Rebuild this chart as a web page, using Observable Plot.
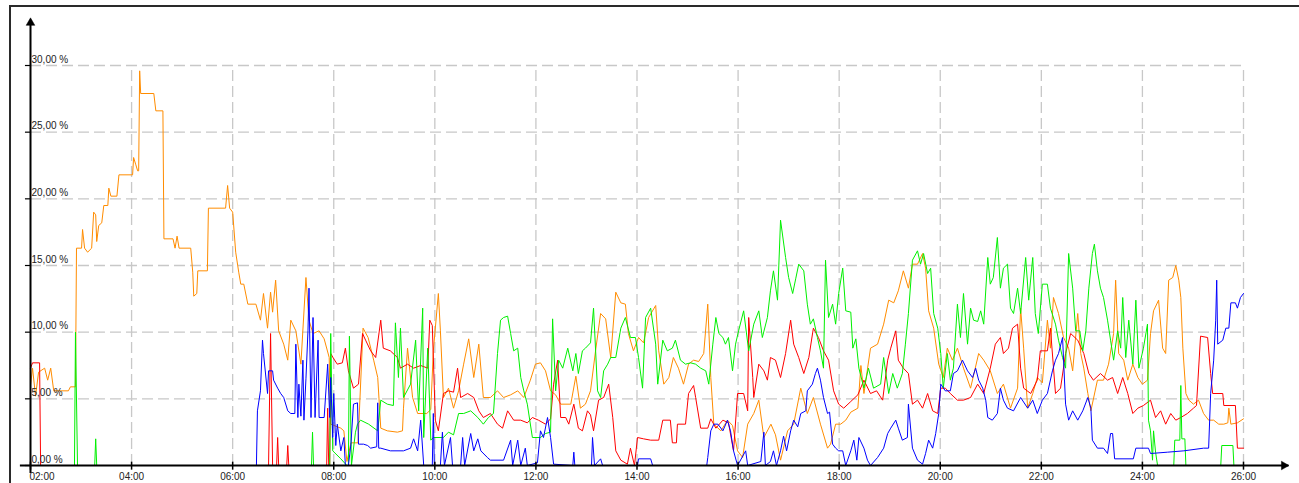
<!DOCTYPE html>
<html>
<head>
<meta charset="utf-8">
<script src="https://cdn.jsdelivr.net/npm/d3@7"></script>
<script src="https://cdn.jsdelivr.net/npm/@observablehq/plot@0.6"></script>
<style>
  html, body { margin: 0; padding: 0; background: #fff; }
  #wrap { position: relative; width: 1299px; height: 483px; overflow: hidden; }
  #frame { position: absolute; left: 9px; top: 5px; right: -4px; bottom: -4px; border-left: 2px solid #2a2a2a; border-top: 2px solid #2a2a2a; pointer-events: none; }
  svg { display: block; }
</style>
</head>
<body>
<div id="wrap"><div id="frame"></div></div>
<script>
// ---- tick values ----
const xTicks = [2, 4, 6, 8, 10, 12, 14, 16, 18, 20, 22, 24, 26];      // hours (02:00 .. 26:00)
const yTicks = [0, 5, 10, 15, 20, 25, 30];                             // percent

// ---- series: [hour, percent] ----
const orangeSeries = [[2.00,6.0],[2.04,7.3],[2.10,5.2],[2.16,7.0],[2.28,7.3],[2.34,6.4],[2.40,7.3],[2.46,5.6],[2.75,5.6],[2.79,5.9],[2.89,5.9],[2.91,16.3],[3.01,16.3],[3.03,17.7],[3.07,16.3],[3.13,16.0],[3.21,16.3],[3.25,19.0],[3.29,18.8],[3.31,16.8],[3.35,18.0],[3.41,18.2],[3.45,19.5],[3.53,19.5],[3.55,20.8],[3.59,20.2],[3.71,20.2],[3.75,21.8],[4.02,21.8],[4.04,23.1],[4.08,22.6],[4.12,22.1],[4.14,22.1],[4.16,29.6],[4.18,27.9],[4.44,27.9],[4.48,26.6],[4.62,26.6],[4.64,17.0],[4.82,17.0],[4.86,16.3],[4.90,17.2],[4.94,16.3],[5.17,16.3],[5.21,14.5],[5.23,12.7],[5.29,12.9],[5.31,14.6],[5.50,14.6],[5.52,19.3],[5.86,19.3],[5.90,21.0],[5.94,19.3],[6.00,19.0],[6.06,16.0],[6.12,14.5],[6.16,13.6],[6.22,13.6],[6.30,12.1],[6.46,12.1],[6.55,10.9],[6.61,12.9],[6.69,10.3],[6.75,13.0],[6.79,11.5],[6.85,13.9],[6.91,10.1],[7.01,9.1],[7.09,7.9],[7.15,10.9],[7.25,10.1],[7.35,7.6],[7.45,14.1],[7.51,10.9],[7.59,9.9],[7.71,10.1],[7.81,9.5],[7.91,8.1],[7.94,3.1],[8.14,2.8],[8.20,2.6],[8.26,0.3],[8.34,1.7],[8.48,1.7],[8.58,10.3],[8.68,9.6],[8.79,7.9],[8.87,6.6],[8.93,2.8],[9.06,2.6],[9.26,2.5],[9.36,2.6],[9.38,4.3],[9.46,8.8],[9.56,5.1],[9.66,3.9],[9.84,3.9],[9.92,4.2],[9.97,8.6],[10.07,12.9],[10.11,10.1],[10.17,5.1],[10.27,5.8],[10.37,4.3],[10.47,5.6],[10.57,7.6],[10.67,9.5],[10.77,6.6],[10.87,9.1],[10.96,5.1],[11.10,5.1],[11.24,5.6],[11.36,5.1],[11.50,5.3],[11.64,5.6],[11.76,5.1],[11.89,6.4],[11.99,7.6],[12.09,7.7],[12.19,7.1],[12.29,5.6],[12.39,5.3],[12.49,4.6],[12.69,4.6],[12.79,6.7],[12.88,4.3],[12.98,4.6],[13.08,5.6],[13.18,8.6],[13.28,11.4],[13.38,11.0],[13.48,8.1],[13.58,13.0],[13.68,12.2],[13.77,12.1],[13.83,9.9],[13.93,8.6],[14.03,9.6],[14.13,9.2],[14.23,11.1],[14.37,12.0],[14.43,8.6],[14.53,6.1],[14.63,6.6],[14.72,8.1],[14.82,7.3],[14.92,6.1],[15.02,7.6],[15.12,7.9],[15.22,7.8],[15.32,8.4],[15.40,12.1],[15.46,6.6],[15.52,3.1],[15.66,2.6],[15.79,3.4],[15.89,3.0],[15.99,1.1],[16.09,0.6],[16.19,3.1],[16.31,3.9],[16.41,4.9],[16.51,2.1],[16.65,3.1],[16.74,2.3],[16.84,0.4],[16.98,2.6],[17.10,3.1],[17.24,5.8],[17.37,3.9],[17.49,5.1],[17.63,3.1],[17.77,1.3],[17.83,1.6],[17.93,3.1],[18.03,3.1],[18.13,3.4],[18.23,4.0],[18.37,4.3],[18.43,7.5],[18.49,5.4],[18.62,8.8],[18.76,9.1],[18.88,10.6],[18.98,12.4],[19.08,12.2],[19.17,13.1],[19.27,14.6],[19.37,13.3],[19.45,15.1],[19.55,15.1],[19.65,15.9],[19.71,14.8],[19.77,11.6],[19.87,10.3],[19.97,7.6],[20.06,6.6],[20.14,8.8],[20.24,7.9],[20.34,8.8],[20.46,7.3],[20.60,5.8],[20.76,8.4],[20.86,7.9],[20.99,7.1],[21.13,5.4],[21.25,6.1],[21.39,4.3],[21.53,5.8],[21.59,11.8],[21.65,8.8],[21.73,4.3],[21.83,5.4],[21.92,6.6],[22.02,6.2],[22.12,10.9],[22.18,8.8],[22.24,12.6],[22.34,11.4],[22.44,9.6],[22.54,8.8],[22.62,7.1],[22.72,11.4],[22.78,8.4],[22.84,7.3],[22.92,5.4],[22.98,4.1],[23.11,6.4],[23.23,6.4],[23.33,7.6],[23.43,9.9],[23.47,13.9],[23.53,8.4],[23.63,7.9],[23.71,6.4],[23.81,7.6],[23.91,6.6],[24.00,6.1],[24.10,6.4],[24.16,9.9],[24.22,11.6],[24.32,12.4],[24.40,8.8],[24.46,8.4],[24.52,13.9],[24.60,14.1],[24.66,15.0],[24.72,13.9],[24.76,12.6],[24.80,8.8],[24.86,5.4],[24.92,4.9],[25.01,4.6],[25.11,4.9],[25.21,3.9],[25.31,3.4],[25.41,3.4],[25.51,3.1],[25.61,3.1],[25.69,3.2],[25.71,4.3],[25.75,3.1],[25.88,3.2],[26.00,3.5]];

const redSeries = [[2.00,7.3],[2.04,7.7],[2.18,7.7],[2.20,0],[6.71,0],[6.75,9.9],[6.79,0],[6.87,0],[6.89,2.1],[6.91,0],[7.07,0],[7.09,1.5],[7.11,0],[7.86,0],[7.88,4.3],[7.90,0],[7.92,0],[7.94,8.4],[8.00,8.0],[8.07,7.6],[8.17,7.7],[8.23,8.8],[8.29,7.1],[8.39,5.8],[8.49,6.1],[8.57,9.9],[8.63,9.4],[8.73,8.6],[8.83,8.1],[8.93,10.9],[8.98,8.8],[9.12,8.6],[9.26,8.1],[9.32,7.3],[9.46,7.6],[9.58,7.3],[9.72,7.5],[9.86,7.3],[9.90,10.9],[9.95,10.5],[10.01,3.4],[10.07,2.6],[10.17,5.4],[10.27,5.6],[10.37,5.5],[10.45,7.3],[10.51,5.1],[10.65,5.4],[10.77,5.1],[10.87,4.1],[10.96,3.6],[11.10,3.9],[11.24,3.1],[11.34,2.8],[11.44,4.1],[11.56,3.4],[11.70,3.4],[11.83,3.2],[11.93,3.6],[12.05,3.4],[12.19,3.1],[12.29,3.5],[12.35,6.1],[12.43,7.9],[12.49,3.6],[12.59,3.6],[12.65,3.1],[12.75,4.6],[12.84,2.8],[12.92,2.6],[13.02,4.1],[13.08,3.8],[13.14,2.6],[13.24,4.9],[13.34,5.1],[13.44,6.1],[13.52,3.6],[13.58,1.1],[13.68,0.4],[13.81,0.1],[13.87,1.3],[13.95,0],[14.01,2.1],[14.13,2.0],[14.27,1.9],[14.43,1.9],[14.51,3.4],[14.66,3.4],[14.70,1.7],[14.78,1.7],[14.80,3.1],[14.96,3.1],[15.02,5.4],[15.12,6.0],[15.16,5.1],[15.26,2.8],[15.40,2.8],[15.46,3.5],[15.56,2.8],[15.70,3.4],[15.81,3.2],[15.91,1.1],[15.99,5.4],[16.11,5.4],[16.19,4.1],[16.21,11.1],[16.29,6.6],[16.31,5.1],[16.41,7.6],[16.51,7.1],[16.58,6.4],[16.64,8.1],[16.74,7.9],[16.84,6.6],[16.94,8.4],[17.04,10.9],[17.10,9.1],[17.20,8.1],[17.30,6.9],[17.40,8.1],[17.49,10.3],[17.59,9.6],[17.69,8.6],[17.79,7.9],[17.89,5.6],[17.99,4.6],[18.09,4.3],[18.23,4.8],[18.37,5.3],[18.49,6.4],[18.62,5.4],[18.74,5.6],[18.86,4.9],[18.96,7.9],[19.02,8.8],[19.12,10.1],[19.17,7.9],[19.27,7.3],[19.37,6.9],[19.45,4.6],[19.55,4.9],[19.65,4.3],[19.75,5.4],[19.85,4.1],[19.95,3.9],[20.01,5.8],[20.10,5.8],[20.20,5.4],[20.34,4.9],[20.46,4.9],[20.60,5.1],[20.74,6.1],[20.86,5.4],[20.99,7.3],[21.09,9.1],[21.19,9.6],[21.25,8.4],[21.35,8.8],[21.43,10.3],[21.53,10.6],[21.59,7.3],[21.65,5.8],[21.79,5.4],[21.92,6.4],[21.98,8.6],[22.12,8.6],[22.18,10.3],[22.28,5.4],[22.38,5.8],[22.48,8.4],[22.58,9.9],[22.72,9.4],[22.84,8.4],[22.94,6.9],[23.03,6.4],[23.17,6.9],[23.31,6.4],[23.41,6.6],[23.51,5.4],[23.61,6.6],[23.71,5.4],[23.81,3.9],[23.91,4.3],[24.02,4.5],[24.16,4.9],[24.26,3.6],[24.36,4.1],[24.46,3.1],[24.56,3.9],[24.66,3.4],[24.76,3.6],[24.89,3.9],[25.01,4.3],[25.07,4.5],[25.15,9.7],[25.29,9.6],[25.35,6.9],[25.39,5.4],[25.59,5.4],[25.61,4.5],[25.84,4.5],[25.88,1.3],[26.00,1.3]];

const greenSeries = [[2.00,0],[2.87,0],[2.89,10.0],[2.93,0],[3.27,0],[3.29,2.0],[3.31,0],[7.56,0],[7.58,2.5],[7.60,0],[7.92,0],[7.94,9.9],[7.98,1.1],[8.14,0.5],[8.26,0],[8.29,0],[8.31,9.7],[8.35,0],[8.43,2.5],[8.47,3.1],[8.53,3.4],[8.69,3.1],[8.87,2.6],[8.93,4.9],[9.06,4.6],[9.18,4.5],[9.22,10.7],[9.28,6.6],[9.32,10.3],[9.38,5.1],[9.52,6.1],[9.62,9.4],[9.68,4.1],[9.76,11.8],[9.78,2.1],[9.86,8.8],[9.92,1.9],[9.97,2.1],[10.17,2.1],[10.27,2.5],[10.37,2.3],[10.47,3.9],[10.57,3.9],[10.71,4.1],[10.85,3.6],[10.96,3.1],[11.06,3.6],[11.16,3.9],[11.24,8.4],[11.30,10.9],[11.36,11.1],[11.44,11.2],[11.50,9.9],[11.56,8.6],[11.64,8.8],[11.70,6.6],[11.76,5.6],[11.83,4.6],[11.93,2.1],[12.09,2.1],[12.19,2.4],[12.29,2.5],[12.33,11.0],[12.39,5.6],[12.45,7.9],[12.53,7.3],[12.63,8.8],[12.73,7.1],[12.79,8.4],[12.84,6.9],[12.92,8.6],[12.98,8.8],[13.08,9.2],[13.14,11.8],[13.22,5.6],[13.28,5.1],[13.34,7.1],[13.42,7.6],[13.48,8.1],[13.58,8.1],[13.68,10.3],[13.77,11.1],[13.87,9.6],[13.97,9.6],[14.03,8.1],[14.11,5.8],[14.17,11.1],[14.27,11.8],[14.37,9.1],[14.41,6.1],[14.51,9.4],[14.60,8.6],[14.70,8.8],[14.76,9.4],[14.86,7.9],[14.96,7.6],[15.06,7.7],[15.16,7.6],[15.26,7.3],[15.36,7.1],[15.42,6.1],[15.50,9.1],[15.56,11.1],[15.62,9.9],[15.70,9.6],[15.75,9.1],[15.81,9.6],[15.89,7.1],[15.95,9.1],[16.01,10.1],[16.11,11.6],[16.21,8.6],[16.31,10.6],[16.41,11.6],[16.48,9.6],[16.58,11.1],[16.64,13.1],[16.70,14.6],[16.78,12.4],[16.84,18.4],[16.94,15.6],[17.00,14.1],[17.08,12.9],[17.14,14.0],[17.20,15.1],[17.30,14.6],[17.37,12.1],[17.43,10.6],[17.49,11.0],[17.57,9.6],[17.63,8.6],[17.69,7.3],[17.73,15.4],[17.79,11.1],[17.87,12.1],[17.93,10.6],[17.99,12.9],[18.07,14.8],[18.13,11.6],[18.23,11.5],[18.27,8.8],[18.33,9.5],[18.39,7.3],[18.49,5.8],[18.58,7.3],[18.68,5.8],[18.82,6.1],[18.88,8.1],[18.98,5.4],[19.06,6.9],[19.15,5.8],[19.25,6.9],[19.31,9.1],[19.37,11.4],[19.45,15.4],[19.55,16.1],[19.61,15.1],[19.67,15.9],[19.75,14.4],[19.81,14.8],[19.87,11.4],[19.95,10.3],[20.01,8.4],[20.06,5.8],[20.14,8.4],[20.20,6.4],[20.26,7.3],[20.34,12.1],[20.40,9.6],[20.46,12.9],[20.54,9.1],[20.60,11.8],[20.66,10.9],[20.74,10.8],[20.80,11.6],[20.86,10.6],[20.94,15.6],[20.99,13.6],[21.05,14.1],[21.13,17.1],[21.19,13.3],[21.25,14.8],[21.33,15.1],[21.39,11.8],[21.45,11.4],[21.53,13.3],[21.59,11.4],[21.69,15.6],[21.75,12.4],[21.83,15.6],[21.88,11.4],[21.94,9.9],[22.02,13.6],[22.12,13.6],[22.18,11.8],[22.28,10.6],[22.34,9.4],[22.42,8.1],[22.48,7.3],[22.54,15.9],[22.62,13.3],[22.68,10.1],[22.76,10.1],[22.82,8.6],[22.88,10.1],[22.94,13.3],[23.01,15.9],[23.05,16.6],[23.11,14.6],[23.17,13.3],[23.23,12.6],[23.31,10.9],[23.37,9.4],[23.43,7.9],[23.51,10.1],[23.57,8.8],[23.61,12.6],[23.67,8.1],[23.73,10.9],[23.81,7.6],[23.87,12.4],[23.93,7.3],[24.02,8.8],[24.10,10.6],[24.12,3.4],[24.16,2.6],[24.20,0.4],[24.22,2.6],[24.26,1.0],[24.30,0],[24.62,0],[24.64,1.9],[24.74,1.9],[24.76,6.0],[24.78,2.0],[24.84,2.0],[24.86,0],[25.55,0],[25.57,1.5],[25.79,1.5],[25.81,0],[26.00,0]];

const blueSeries = [[6.47,0],[6.49,4.1],[6.55,5.6],[6.59,9.4],[6.61,8.4],[6.69,5.4],[6.71,7.1],[6.79,7.1],[6.81,6.4],[6.89,5.8],[6.95,5.4],[7.01,5.1],[7.09,4.1],[7.15,3.9],[7.23,3.9],[7.25,9.1],[7.29,3.6],[7.31,6.1],[7.35,3.7],[7.39,7.9],[7.41,3.4],[7.45,6.5],[7.49,10.1],[7.51,13.3],[7.55,3.6],[7.59,11.1],[7.63,3.6],[7.69,9.4],[7.71,3.6],[7.81,3.6],[7.88,7.6],[7.92,3.6],[7.94,6.6],[7.98,2.1],[8.00,5.4],[8.04,1.5],[8.07,3.1],[8.14,1.1],[8.20,2.1],[8.23,0],[8.29,0],[8.34,1.6],[8.39,4.6],[8.47,4.7],[8.49,1.6],[8.59,1.6],[8.67,1.5],[8.73,1.3],[8.85,1.4],[8.87,4.7],[8.89,1.3],[8.93,1.3],[9.12,1.1],[9.38,1.1],[9.52,1.3],[9.58,2.0],[9.66,1.1],[9.72,3.4],[9.78,0],[9.95,0],[9.97,3.9],[9.99,0],[10.11,0],[10.15,2.5],[10.19,0],[10.31,2.1],[10.35,0],[10.51,0],[10.55,2.1],[10.59,0],[10.71,2.4],[10.77,1.1],[10.85,2.0],[10.91,1.1],[11.04,0.6],[11.10,0.4],[11.36,0.4],[11.50,1.9],[11.54,0],[11.64,1.9],[11.70,0],[11.79,1.3],[11.83,0],[12.03,0.2],[12.09,2.6],[12.15,2.1],[12.23,3.6],[12.29,2.1],[12.35,0.1],[12.73,0],[12.75,1.0],[12.77,0],[13.10,0],[13.12,2.1],[13.16,0],[13.28,0.5],[13.32,0],[14.01,0],[14.03,0.5],[14.27,0.5],[14.31,0],[15.38,0],[15.40,0.6],[15.46,2.6],[15.52,3.1],[15.60,3.1],[15.70,2.6],[15.79,3.4],[15.85,2.6],[15.91,1.1],[15.99,0],[16.15,1.1],[16.19,0],[16.45,0.3],[16.51,2.5],[16.54,0],[16.64,0.3],[16.70,1.1],[16.76,0],[16.84,1.1],[16.90,2.2],[16.96,1.1],[17.04,2.6],[17.10,3.4],[17.18,2.9],[17.24,3.9],[17.34,4.1],[17.37,5.6],[17.47,6.1],[17.53,6.9],[17.57,7.3],[17.63,6.4],[17.69,5.1],[17.77,3.9],[17.81,4.0],[17.87,1.6],[17.93,1.3],[17.99,1.1],[18.07,1.1],[18.13,0],[18.23,1.1],[18.29,1.9],[18.35,0.4],[18.39,2.1],[18.49,1.3],[18.56,0.4],[18.62,0],[18.76,0.6],[18.88,1.3],[18.96,2.4],[19.02,2.8],[19.12,3.4],[19.17,2.8],[19.25,1.9],[19.35,2.1],[19.37,4.6],[19.45,1.3],[19.55,0.4],[19.65,0.1],[19.71,0.9],[19.77,1.9],[19.85,1.3],[19.91,2.4],[19.97,3.9],[20.01,6.1],[20.10,5.6],[20.20,5.6],[20.26,6.9],[20.34,7.1],[20.44,7.9],[20.54,7.1],[20.64,6.6],[20.70,7.3],[20.76,6.4],[20.84,5.8],[20.90,4.9],[20.94,3.6],[21.03,3.4],[21.13,3.9],[21.19,5.8],[21.25,4.9],[21.33,4.3],[21.45,4.1],[21.59,5.1],[21.73,4.3],[21.83,4.9],[21.92,3.9],[22.02,4.9],[22.12,5.4],[22.22,7.1],[22.28,7.9],[22.34,8.4],[22.42,9.6],[22.48,4.6],[22.54,3.4],[22.62,4.1],[22.72,3.4],[22.82,4.1],[22.92,5.1],[22.98,4.3],[23.01,1.9],[23.11,1.3],[23.23,1.3],[23.31,0.9],[23.37,2.4],[23.41,2.4],[23.45,0.5],[23.82,0.5],[23.87,1.3],[24.12,1.3],[24.16,0.9],[24.50,1.0],[24.82,1.1],[25.21,1.3],[25.31,1.3],[25.35,5.4],[25.41,7.9],[25.45,10.9],[25.47,13.9],[25.49,9.1],[25.59,9.4],[25.65,10.3],[25.71,10.3],[25.75,12.2],[25.84,12.2],[25.88,11.8],[25.94,12.6],[26.00,12.9]];

const seriesColors = {orange: "#ff8c00", red: "#ff0000", green: "#00f000", blue: "#0000ff"};

const toRows = (arr) => arr.map(([t, v]) => ({t, v}));
const hourLabel = (h) => String(h).padStart(2, "0") + ":00";
const pctLabel = (p) => p.toFixed(2).replace(".", ",") + " %";

const font = "'Liberation Sans', Arial, sans-serif";
const gridStyle = {stroke: "#c8c8c8", strokeWidth: 1.3, strokeDasharray: "11,5"};

const chart = Plot.plot({
  width: 1299,
  height: 483,
  marginLeft: 30,
  marginRight: 56,
  marginTop: 65,
  marginBottom: 18,
  x: {domain: [2, 26], axis: null},
  y: {domain: [0, 30], axis: null},
  style: {background: "transparent", fontFamily: font, overflow: "visible"},
  marks: [
    // grid
    Plot.ruleY(yTicks.filter(d => d > 0), {y: d => d, x1: 2, x2: 26, ...gridStyle}),
    Plot.ruleX(xTicks.filter(d => d > 2), {x: d => d, y1: 0, y2: 30, ...gridStyle}),
    // series
    Plot.line(toRows(orangeSeries), {x: "t", y: "v", stroke: seriesColors.orange, strokeWidth: 1, curve: "linear"}),
    Plot.line(toRows(redSeries), {x: "t", y: "v", stroke: seriesColors.red, strokeWidth: 1, curve: "linear"}),
    Plot.line(toRows(greenSeries), {x: "t", y: "v", stroke: seriesColors.green, strokeWidth: 1, curve: "linear"}),
    Plot.line(toRows(blueSeries), {x: "t", y: "v", stroke: seriesColors.blue, strokeWidth: 1, curve: "linear"}),
    // axes
    Plot.ruleY([0], {x1: 1.8, x2: 26.9, stroke: "#000", strokeWidth: 2}),
    Plot.ruleX([2], {y1: -0.6, y2: 33.2, stroke: "#000", strokeWidth: 2}),
    Plot.dot([{x: 2, y: 33.2}], {x: "x", y: "y", symbol: "triangle", r: 3.2, fill: "#000", stroke: "#000", strokeWidth: 0.5}),
    Plot.dot([{x: 26.8, y: 0}], {x: "x", y: "y", symbol: "triangle", r: 3.2, fill: "#000", stroke: "#000", strokeWidth: 0.5, rotate: 90}),
    // ticks
    Plot.ruleY(yTicks, {y: d => d, x1: 1.9, x2: 2, stroke: "#000", strokeWidth: 1.2}),
    Plot.ruleX(xTicks, {x: d => d, y1: -0.35, y2: 0.25, stroke: "#000", strokeWidth: 1.5}),
    // tick labels
    Plot.text(yTicks, {x: 2, y: d => d, text: pctLabel, textAnchor: "start", dx: 1, dy: -6, fill: "#222", fontSize: 10}),
    Plot.text(xTicks.slice(0, 1), {x: d => d, y: 0, text: hourLabel, textAnchor: "start", dx: -1, dy: 11, fill: "#222", fontSize: 10}),
    Plot.text(xTicks.slice(1), {x: d => d, y: 0, text: hourLabel, textAnchor: "middle", dy: 11, fill: "#222", fontSize: 10})
  ]
});

document.getElementById("wrap").prepend(chart);
</script>
</body>
</html>
